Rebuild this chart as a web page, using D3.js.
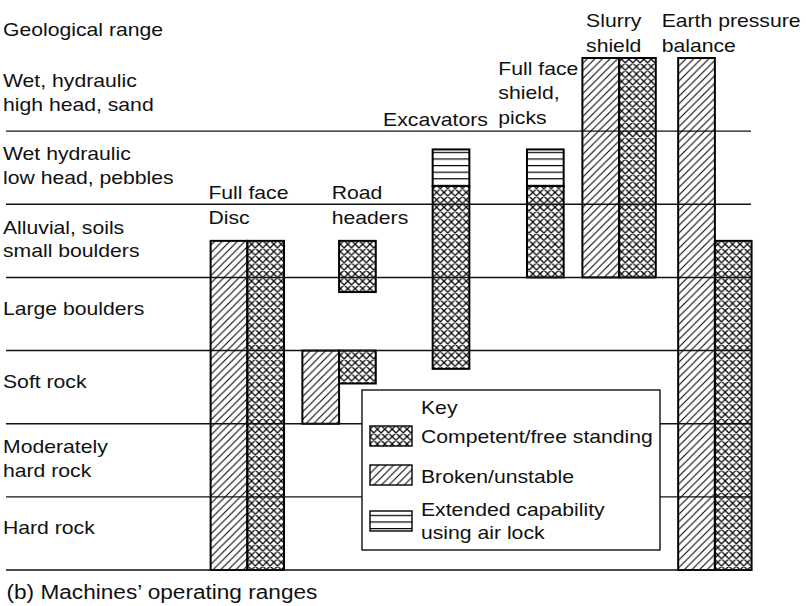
<!DOCTYPE html>
<html>
<head>
<meta charset="utf-8">
<script src="https://cdn.jsdelivr.net/npm/d3@7"></script>
<style>
  body { margin: 0; background: #fff; }
  svg { display: block; }
  text { font-family: "Liberation Sans", Arial, Helvetica, sans-serif; font-size: 18.5px; fill: #111; }
  text.caption { font-size: 19.5px; }
</style>
</head>
<body>
<svg id="chart" width="806" height="606"></svg>
<script>
// Geological ranges, listed bottom to top; each one spans one unit of "level"
const geologicalRanges = [
  ["Hard rock"],
  ["Moderately", "hard rock"],
  ["Soft rock"],
  ["Large boulders"],
  ["Alluvial, soils", "small boulders"],
  ["Wet hydraulic", "low head, pebbles"],
  ["Wet, hydraulic", "high head, sand"]
];
const headerLabel = "Geological range";
const caption = "(b) Machines\u2019 operating ranges";

const machines = ["Full face Disc", "Road headers", "Excavators", "Full face shield, picks", "Slurry shield", "Earth pressure balance"];
const machineLabels = [
  ["Full face", "Disc"],
  ["Road", "headers"],
  ["Excavators"],
  ["Full face", "shield,", "picks"],
  ["Slurry", "shield"],
  ["Earth pressure", "balance"]
];
// column (in bar widths) where each machine's bars start
const machineColumn = [5.63, 8.13, 11.68, 14.25, 15.76, 18.37];
// where each machine's name sits: column and level of its first line
const labelColumn = [5.57, 8.93, 10.33, 13.47, 15.86, 17.92];
const labelLevel = [5.07, 5.07, 6.07, 6.77, 7.42, 7.42];

const conditions = ["competent", "broken", "airlock"];
const conditionNames = [["Competent/free standing"], ["Broken/unstable"], ["Extended capability", "using air lock"]];

// Operating ranges: machine, ground condition, sub-column, from level, to level
const operatingRanges = [
  { machine: 0, condition: "broken",    col: 0, from: 0,    to: 4.5 },
  { machine: 0, condition: "competent", col: 1, from: 0,    to: 4.5 },
  { machine: 1, condition: "competent", col: 1, from: 3.8,  to: 4.5 },
  { machine: 1, condition: "broken",    col: 0, from: 2,    to: 3 },
  { machine: 1, condition: "competent", col: 1, from: 2.55, to: 3 },
  { machine: 2, condition: "competent", col: 0, from: 2.75, to: 5.25 },
  { machine: 2, condition: "airlock",   col: 0, from: 5.25, to: 5.75 },
  { machine: 3, condition: "competent", col: 0, from: 4,    to: 5.25 },
  { machine: 3, condition: "airlock",   col: 0, from: 5.25, to: 5.75 },
  { machine: 4, condition: "broken",    col: 0, from: 4,    to: 7 },
  { machine: 4, condition: "competent", col: 1, from: 4,    to: 7 },
  { machine: 5, condition: "broken",    col: 0, from: 0,    to: 7 },
  { machine: 5, condition: "competent", col: 1, from: 0,    to: 4.5 }
];

// ---- layout ----
const svg = d3.select("#chart");
const SX = 1.145;          // horizontal stretch of the lettering
const LH_LEFT = 23.5, LH_MACHINE = 24.5;

const y = d3.scaleLinear().domain([0, 7]).range([570, 58]);
const x = d3.scaleLinear().domain([0, 20]).range([4, 738]);
const colW = x(1) - x(0);

// ---- fill patterns ----
const defs = svg.append("defs");
const P = 7.4;
const cross = defs.append("pattern").attr("id", "competent")
  .attr("patternUnits", "userSpaceOnUse").attr("width", P).attr("height", P);
cross.append("path")
  .attr("d", `M0,0L${P},${P}M0,${P}L${P},0M-1,1L1,-1M${P - 1},${P + 1}L${P + 1},${P - 1}M-1,${P - 1}L1,${P + 1}M${P - 1},-1L${P + 1},1`)
  .attr("stroke", "#000").attr("stroke-width", 1.25).attr("fill", "none");

const H = 7.6;
const hatch = defs.append("pattern").attr("id", "broken")
  .attr("patternUnits", "userSpaceOnUse").attr("width", H).attr("height", H);
hatch.append("path")
  .attr("d", `M0,${H}L${H},0M-1,1L1,-1M${H - 1},${H + 1}L${H + 1},${H - 1}`)
  .attr("stroke", "#000").attr("stroke-width", 1.05).attr("fill", "none");

const L = 6.6;
const hlines = defs.append("pattern").attr("id", "airlock")
  .attr("patternUnits", "userSpaceOnUse").attr("width", 10).attr("height", L);
hlines.append("line").attr("x1", 0).attr("x2", 10).attr("y1", 0.6).attr("y2", 0.6)
  .attr("stroke", "#000").attr("stroke-width", 1.2);

// ---- text helper: multi-line, horizontally stretched ----
function addText(parent, tx, ty, textLines, lh, sx = SX) {
  const t = parent.append("text").attr("transform", `translate(${tx},${ty}) scale(${sx},1)`);
  textLines.forEach((s, i) => t.append("tspan").attr("x", 0).attr("y", i * lh).text(s));
  return t;
}

// ---- operating range bars ----
svg.append("g").selectAll("rect").data(operatingRanges).join("rect")
  .attr("x", d => x(machineColumn[d.machine] + d.col))
  .attr("width", colW)
  .attr("y", d => y(d.to))
  .attr("height", d => y(d.from) - y(d.to))
  .attr("fill", d => `url(#${d.condition})`)
  .attr("stroke", "#000").attr("stroke-width", 2);

// ---- boundaries between geological ranges ----
svg.append("g").selectAll("line").data(d3.range(geologicalRanges.length)).join("line")
  .attr("x1", 6).attr("x2", 751)
  .attr("y1", d => y(d)).attr("y2", d => y(d))
  .attr("stroke", "#111").attr("stroke-width", 1.4);

// ---- geological range names ----
const rangeNames = svg.append("g");
addText(rangeNames, 3, y(7) - 22, [headerLabel], LH_LEFT);
geologicalRanges.forEach((lab, i) => {
  const centre = (y(i) + y(i + 1)) / 2;
  const first = centre + 0.5 - (lab.length - 1) * (LH_LEFT / 2 - 4);
  addText(rangeNames, 3, first, lab, LH_LEFT);
});

// ---- machine names ----
const machineNames = svg.append("g");
machineLabels.forEach((lab, i) => {
  addText(machineNames, x(labelColumn[i]), y(labelLevel[i]), lab, LH_MACHINE);
});

// ---- key ----
const key = svg.append("g");
key.append("rect").attr("x", 362).attr("y", 390).attr("width", 298).attr("height", 160)
  .attr("fill", "#fff").attr("stroke", "#111").attr("stroke-width", 1.4);
addText(key, 421, 414, ["Key"], LH_LEFT);
const keyRows = [426, 465, 511];
const keyText = [443, 483, 516];
conditions.forEach((c, i) => {
  key.append("rect").attr("x", 370).attr("y", keyRows[i]).attr("width", 42).attr("height", 20)
    .attr("fill", `url(#${c})`).attr("stroke", "#000").attr("stroke-width", 1.4);
  addText(key, 421, keyText[i], conditionNames[i], LH_LEFT);
});

// ---- caption ----
addText(svg, 6.5, 599, [caption], LH_LEFT, 1.16).attr("class", "caption");
</script>
</body>
</html>
